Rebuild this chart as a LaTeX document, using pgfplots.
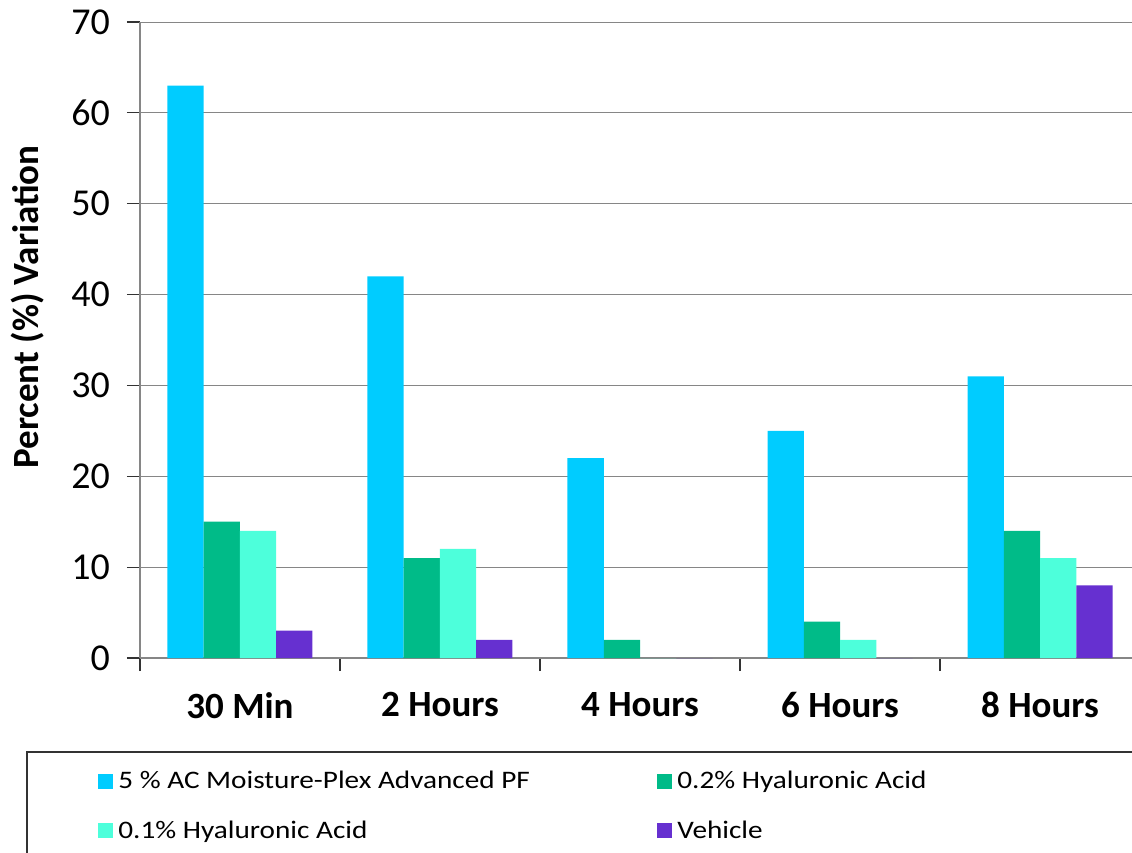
\documentclass[border=0pt]{standalone}
\usepackage{pgfplots}
\pgfplotsset{compat=1.18}
\usepackage{fontspec}
\setmainfont{Carlito}
\newfontfamily\legfont[FakeStretch=1.16]{Carlito}
\definecolor{cA}{HTML}{00CCFF}
\definecolor{cB}{HTML}{00BB88}
\definecolor{cC}{HTML}{4DFFDB}
\definecolor{cD}{HTML}{6630D0}
\definecolor{gridc}{HTML}{868686}
\begin{document}
\begin{tikzpicture}
\useasboundingbox (-70pt,-97.5pt) rectangle (496pt,329pt);
\begin{axis}[
  at={(0,0)}, anchor=south west,
  width=500pt, height=318pt, scale only axis,
  xmin=-0.5, xmax=4.5, ymin=0, ymax=70,
  ybar=0pt, bar width=18.125pt,
  every axis plot post/.append style={legend image code/.code={\fill[##1] (0pt,-3.75pt) rectangle (7.5pt,3.75pt);}},
  axis x line*=bottom, axis y line*=left,
  axis line style={draw=gridc, line width=0.6pt, -},
  ytick={0,10,...,70},
  ymajorgrids, grid style={draw=gridc, line width=0.5pt},
  xtick={-0.5,0.5,1.5,2.5,3.5,4.5},
  xticklabels={30 Min,2 Hours,4 Hours,6 Hours,8 Hours,},
  x tick label as interval,
  tick align=outside, major tick length=6.5pt,
  tick style={draw=black!80, line width=0.6pt},
  /pgf/number format/assume math mode=true,
  yticklabel style={font=\fontsize{19}{22}\selectfont, xshift=-5pt},
  xticklabel style={font=\bfseries\fontsize{18.5}{22}\selectfont, yshift=-7pt},
  ylabel={\bfseries Percent (\%) Variation},
  ylabel style={font=\fontsize{18.5}{22}\selectfont, at={(axis description cs:-0.112,0.552)}, anchor=center, rotate=0},
  legend style={at={(axis description cs:-0.048,-0.168)}, anchor=north west, draw=none, fill=none,
    font=\legfont\fontsize{12.6}{15}\selectfont,
    nodes={inner xsep=1.5pt, inner ysep=1pt, anchor=west},
    /tikz/every odd column/.append style={column sep=1pt},
    row sep=12.5pt},
  legend columns=2,
]
\addplot[fill=cA, draw=none] coordinates {(0,63) (1,42) (2,22) (3,25) (4,31)};
\addlegendentry{\makebox[268pt][l]{5 \% AC Moisture-Plex Advanced PF}}
\addplot[fill=cB, draw=none] coordinates {(0,15) (1,11) (2,2) (3,4) (4,14)};
\addlegendentry{0.2\% Hyaluronic Acid}
\addplot[fill=cC, draw=none] coordinates {(0,14) (1,12) (2,0) (3,2) (4,11)};
\addlegendentry{\makebox[268pt][l]{0.1\% Hyaluronic Acid}}
\addplot[fill=cD, draw=none] coordinates {(0,3) (1,2) (2,0) (3,0) (4,8)};
\addlegendentry{Vehicle}
\end{axis}
\draw[black!80, line width=0.6pt] (500pt,-47pt) -- (-56.5pt,-47pt) -- (-56.5pt,-100pt);
\end{tikzpicture}
\end{document}
